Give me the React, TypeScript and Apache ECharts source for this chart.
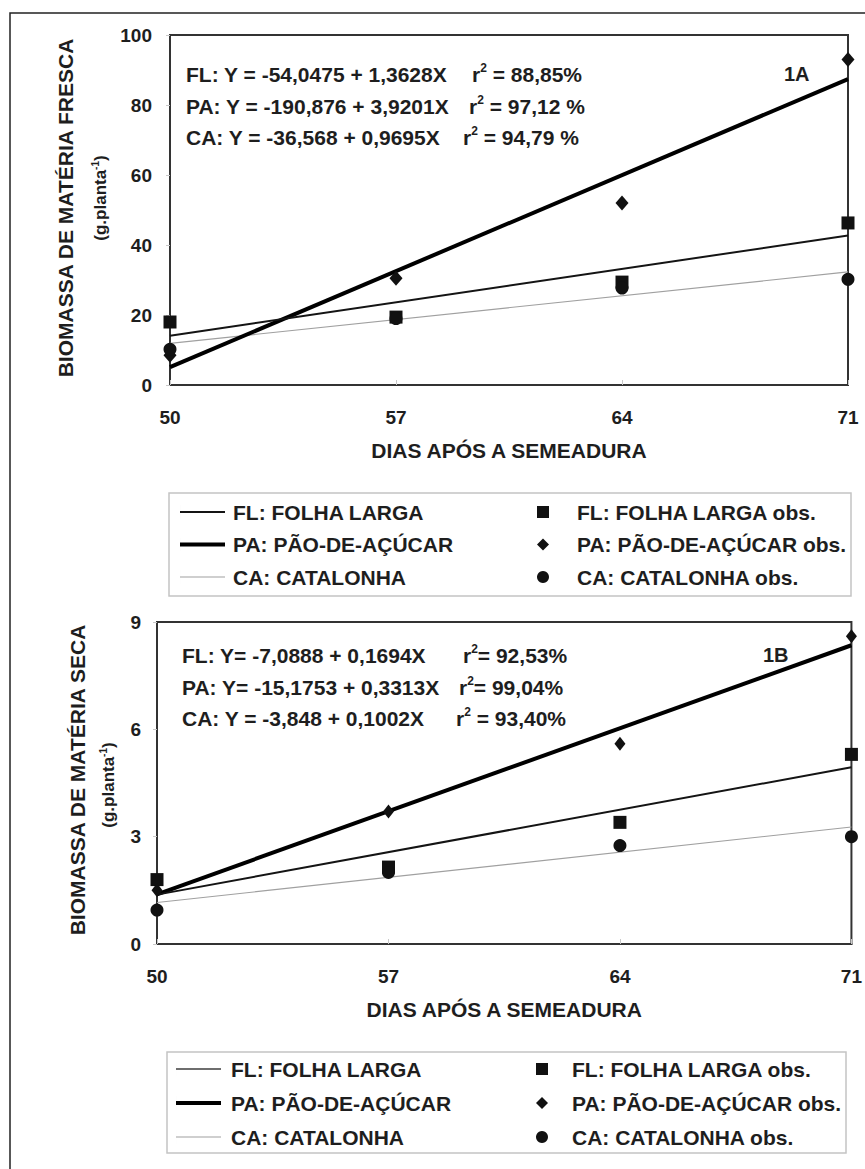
import React, { useEffect, useRef } from "react";
import * as echarts from "echarts";

// ---------- data ----------
const xTicks = [50, 57, 64, 71];
const days = [50, 57, 64, 71];
const fitDays = [50, 71];

// 1A - fresh biomass (g.planta-1)
const flFreshObs = [18.0, 19.4, 29.4, 46.3];
const paFreshObs = [8.5, 30.5, 52.0, 93.0];
const caFreshObs = [10.2, 19.0, 27.7, 30.2];
const flFreshFit = [14.1, 42.7];
const paFreshFit = [5.1, 87.4];
const caFreshFit = [11.9, 32.3];
const freshTicks = { min: 0, max: 100, interval: 20 };

// 1B - dry biomass (g.planta-1)
const flDryObs = [1.8, 2.15, 3.4, 5.3];
const paDryObs = [1.5, 3.7, 5.6, 8.6];
const caDryObs = [0.95, 2.0, 2.75, 3.0];
const flDryFit = [1.38, 4.94];
const paDryFit = [1.39, 8.35];
const caDryFit = [1.16, 3.27];
const dryTicks = { min: 0, max: 9, interval: 3 };

const lineNames = ["FL: FOLHA LARGA", "PA: PÃO-DE-AÇÚCAR", "CA: CATALONHA"];
const obsNames = ["FL: FOLHA LARGA obs.", "PA: PÃO-DE-AÇÚCAR obs.", "CA: CATALONHA obs."];

const freshEq = ["FL: Y = -54,0475 + 1,3628X", "PA: Y = -190,876 + 3,9201X", "CA: Y = -36,568 + 0,9695X"];
const freshR2 = [" = 88,85%", " = 97,12 %", " = 94,79 %"];
const dryEq = ["FL: Y= -7,0888 + 0,1694X", "PA: Y= -15,1753 + 0,3313X", "CA: Y = -3,848 + 0,1002X"];
const dryR2 = ["= 92,53%", "= 99,04%", " = 93,40%"];

const xTitle = "DIAS APÓS A SEMEADURA";
const yTitleFresh = "BIOMASSA DE MATÉRIA FRESCA";
const yTitleDry = "BIOMASSA DE MATÉRIA SECA";

// ---------- styles ----------
const FONT = "'Liberation Sans', Arial, sans-serif";
const INK = "#1e1e1e";
const lineStyles = [
  { color: "#141414", width: 2 },
  { color: "#000000", width: 4 },
  { color: "#a0a0a0", width: 1.2 },
];
// legend line samples (thin sliver at x=0 keeps the 45x14 box)
const lineIcons = [
  "path://M0,0L0.01,0L0.01,14L0,14Z M0,6L45,6L45,8L0,8Z",
  "path://M0,0L0.01,0L0.01,14L0,14Z M0,5L45,5L45,9L0,9Z",
  "path://M0,0L0.01,0L0.01,14L0,14Z M0,6.4L45,6.4L45,7.6L0,7.6Z",
];
const symbols: any[] = [
  { symbol: "rect", size: 13 },
  { symbol: "diamond", size: [13, 15] },
  { symbol: "circle", size: 13 },
];

const pair = (xs: number[], ys: number[]) => xs.map((x, i) => [x, ys[i]]);

const textBase = { fill: INK, fontFamily: FONT, fontWeight: "bold" as const };

function eqGraphics(eqs: string[], r2s: string[], x0: number, rX: number[], ys: number[], tag: string, tagX: number) {
  const out: any[] = [];
  eqs.forEach((t, i) => {
    out.push({
      type: "text",
      x: x0,
      y: ys[i],
      style: { ...textBase, text: t, fontSize: 21, verticalAlign: "middle" },
    });
    out.push({
      type: "text",
      x: rX[i],
      y: ys[i],
      style: {
        ...textBase,
        text: "{m|r}{s|2}{m|" + r2s[i] + "}",
        verticalAlign: "middle",
        rich: {
          m: { ...textBase, fontSize: 21, lineHeight: 24 },
          s: { ...textBase, fontSize: 12, verticalAlign: "top" },
        },
      },
    });
  });
  out.push({
    type: "text",
    x: tagX,
    y: ys[0],
    style: { ...textBase, text: tag, fontSize: 20, verticalAlign: "middle" },
  });
  return out;
}

function yTitle(main: string, x1: number, y1: number, x2: number, y2: number) {
  return [
    {
      type: "text",
      x: x1,
      y: y1,
      rotation: Math.PI / 2,
      style: { ...textBase, text: main, fontSize: 21, align: "center", verticalAlign: "middle" },
    },
    {
      type: "text",
      x: x2,
      y: y2,
      rotation: Math.PI / 2,
      style: {
        ...textBase,
        text: "{m|(g.planta}{s|-1}{m|)}",
        align: "center",
        verticalAlign: "middle",
        rich: {
          m: { ...textBase, fontSize: 17, lineHeight: 20 },
          s: { ...textBase, fontSize: 10, verticalAlign: "top" },
        },
      },
    },
  ];
}

function buildOption() {
  const axisLabelStyle = { color: INK, fontFamily: FONT, fontWeight: "bold" as const, fontSize: 19 };
  const xAxis = (gridIndex: number) => ({
    type: "value",
    gridIndex,
    min: 50,
    max: 71,
    splitLine: { show: false },
    axisLine: { show: true, lineStyle: { color: "#333", width: 2 } },
    axisTick: { show: true, inside: true, length: 5, lineStyle: { color: "#c8c8c8" }, customValues: xTicks },
    axisLabel: { ...axisLabelStyle, margin: 23, customValues: xTicks },
    name: xTitle,
    nameLocation: "middle",
    nameGap: 55,
    nameTextStyle: { ...axisLabelStyle, fontSize: 21 },
  });
  const yAxis = (gridIndex: number, t: { min: number; max: number; interval: number }, margin: number) => ({
    type: "value",
    gridIndex,
    min: t.min,
    max: t.max,
    interval: t.interval,
    splitLine: { show: false },
    axisLine: { show: true, lineStyle: { color: "#333", width: 2 } },
    axisTick: { show: true, length: 4, lineStyle: { color: "#c8c8c8" } },
    axisLabel: { ...axisLabelStyle, margin },
  });

  const groups = [
    { fits: [flFreshFit, paFreshFit, caFreshFit], obs: [flFreshObs, paFreshObs, caFreshObs] },
    { fits: [flDryFit, paDryFit, caDryFit], obs: [flDryObs, paDryObs, caDryObs] },
  ];
  const series: any[] = [];
  groups.forEach((g, gi) => {
    g.fits.forEach((f, i) => {
      series.push({
        type: "line",
        name: lineNames[i],
        xAxisIndex: gi,
        yAxisIndex: gi,
        data: pair(fitDays, f),
        symbol: "none",
        color: lineStyles[i].color,
        lineStyle: { color: lineStyles[i].color, width: lineStyles[i].width },
        z: 3 - i,
      });
    });
    g.obs.forEach((o, i) => {
      series.push({
        type: "scatter",
        name: obsNames[i],
        xAxisIndex: gi,
        yAxisIndex: gi,
        data: pair(days, o),
        symbol: symbols[i].symbol,
        symbolSize: gi === 1 && i === 1 ? [11, 14] : symbols[i].size,
        color: "#111",
        itemStyle: { color: "#111", opacity: 1 },
        clip: false,
        z: 5,
      });
    });
  });

  const legendText = { color: INK, fontFamily: FONT, fontWeight: "bold" as const, fontSize: 21, lineHeight: 24 };
  const lineData = (bottom: boolean) =>
    lineNames.map((n, i) => ({
      name: n,
      icon: lineIcons[i],
      itemStyle: { color: bottom && i === 0 ? "#6e6e6e" : lineStyles[i].color, borderWidth: 0, opacity: 1 },
    }));
  const obsData = obsNames.map((n) => ({ name: n, itemStyle: { color: "#111", borderWidth: 0, opacity: 1 } }));
  const legend = [
    { left: 180, top: 500, itemGap: 8.5, data: lineData(false), itemWidth: 45, itemHeight: 14, textStyle: { ...legendText, padding: [0, 0, 0, 3] } },
    { left: 537, top: 500, itemGap: 8.5, data: obsData, itemWidth: 12, itemHeight: 12, textStyle: { ...legendText, padding: [0, 0, 0, 23] } },
    { left: 176, top: 1057, itemGap: 10, data: lineData(true), itemWidth: 49, itemHeight: 14, textStyle: { ...legendText, padding: [0, 0, 0, 3] } },
    { left: 536, top: 1057, itemGap: 10, data: obsData, itemWidth: 12, itemHeight: 12, textStyle: { ...legendText, padding: [0, 0, 0, 19] } },
  ].map((l) => ({ ...l, orient: "vertical", padding: 0, selectedMode: false }));

  const graphic: any[] = [
    { type: "rect", shape: { x: 10, y: 13, width: 880, height: 1180 }, style: { fill: "none", stroke: "#222", lineWidth: 1.5 }, silent: true },
    { type: "rect", shape: { x: 169, y: 493, width: 682, height: 103 }, style: { fill: "none", stroke: "#c4c4c4", lineWidth: 1.5 }, silent: true },
    { type: "rect", shape: { x: 167, y: 1052, width: 679, height: 101 }, style: { fill: "none", stroke: "#c4c4c4", lineWidth: 1.5 }, silent: true },
    ...eqGraphics(freshEq, freshR2, 186, [472, 469, 463], [74, 106, 137], "1A", 784),
    ...eqGraphics(dryEq, dryR2, 182, [463, 459, 456], [655, 687, 718], "1B", 763),
    ...yTitle(yTitleFresh, 65, 208, 100, 198),
    ...yTitle(yTitleDry, 77, 780, 108, 785),
  ];

  return {
    animation: false,
    backgroundColor: "#ffffff",
    grid: [
      { left: 170, top: 35, width: 678, height: 350, show: true, borderColor: "#333", borderWidth: 2, backgroundColor: "transparent" },
      { left: 157, top: 622, width: 698, height: 322, show: true, borderColor: "#333", borderWidth: 2, backgroundColor: "transparent" },
    ],
    xAxis: [xAxis(0), xAxis(1)],
    yAxis: [yAxis(0, freshTicks, 18), yAxis(1, dryTicks, 16)],
    legend,
    series,
    graphic,
  };
}

export default function App() {
  const ref = useRef<HTMLDivElement>(null);
  useEffect(() => {
    document.body.style.margin = "0";
    if (!ref.current) return;
    const chart = echarts.init(ref.current, null, { renderer: "svg" });
    chart.setOption(buildOption() as any);
    return () => chart.dispose();
  }, []);
  return <div ref={ref} style={{ width: 865, height: 1169 }} />;
}
